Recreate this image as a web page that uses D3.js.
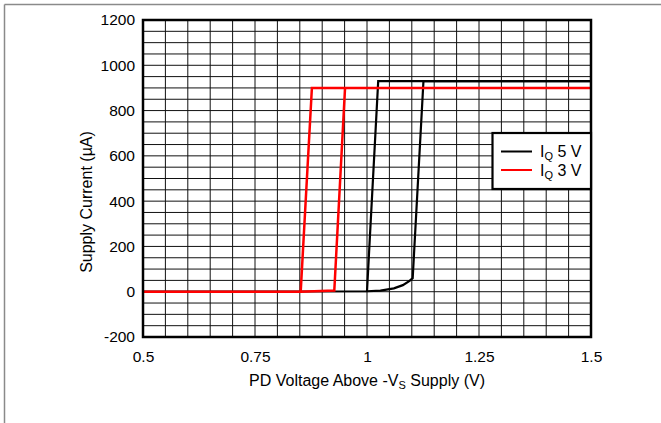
<!DOCTYPE html>
<html>
<head>
<meta charset="utf-8">
<script src="https://cdn.jsdelivr.net/npm/d3@7"></script>
<style>
  html, body { margin: 0; padding: 0; background: #fff; }
  svg { display: block; font-family: "Liberation Sans", Arial, sans-serif; }
</style>
</head>
<body>
<svg id="chart" width="661" height="423"></svg>
<script>
// ---- data ----
const xTicks = [0.5, 0.75, 1, 1.25, 1.5];
const xTickLabels = ["0.5", "0.75", "1", "1.25", "1.5"];
const yTicks = [-200, 0, 200, 400, 600, 800, 1000, 1200];
const yTickLabels = ["-200", "0", "200", "400", "600", "800", "1000", "1200"];
const xGridStep = 0.05;
const yGridStep = 50;

// IQ 5 V (black) - rising branch and falling branch
const iq5RiseX = [0.5, 1.0, 1.03, 1.06, 1.08, 1.095, 1.102, 1.126, 1.5];
const iq5RiseY = [0, 2, 5, 15, 29, 48, 60, 930, 930];
const iq5FallX = [1.0, 1.025, 1.5];
const iq5FallY = [2, 930, 930];

// IQ 3 V (red)
const iq3FallX = [0.5, 0.852, 0.877, 1.5];
const iq3FallY = [0, 0, 900, 900];
const iq3RiseX = [0.852, 0.927, 0.951];
const iq3RiseY = [0, 5, 900];

const seriesNames = ["5 V", "3 V"];
const seriesColors = ["#000000", "#ff0000"];

// ---- layout ----
const svg = d3.select("#chart");
const L = 143, R = 591, T = 20, B = 337;
const x = d3.scaleLinear().domain([0.5, 1.5]).range([L, R]);
const y = d3.scaleLinear().domain([-200, 1200]).range([B, T]);

// outer frame
svg.append("line").attr("x1", 4.5).attr("x2", 661).attr("y1", 4.5).attr("y2", 4.5)
  .attr("stroke", "#8a8a8a").attr("stroke-width", 1.5);
svg.append("line").attr("x1", 4.5).attr("x2", 4.5).attr("y1", 4.5).attr("y2", 423)
  .attr("stroke", "#8a8a8a").attr("stroke-width", 1.5);

// grid
const g = svg.append("g");
const xg = d3.range(0.5, 1.5 + 1e-9, xGridStep);
const yg = d3.range(-200, 1200 + 1e-9, yGridStep);
g.selectAll("line.vx").data(xg).join("line")
  .attr("x1", d => x(d)).attr("x2", d => x(d)).attr("y1", T).attr("y2", B)
  .attr("stroke", "#111").attr("stroke-width", 1);
g.selectAll("line.hy").data(yg).join("line")
  .attr("y1", d => y(d)).attr("y2", d => y(d)).attr("x1", L).attr("x2", R)
  .attr("stroke", "#111").attr("stroke-width", 1);

// axes labels
const yAxis = d3.axisLeft(y).tickValues(yTicks).tickSize(0).tickPadding(8)
  .tickFormat((d, i) => yTickLabels[i]);
const ya = svg.append("g").attr("transform", `translate(${L},0)`).call(yAxis);
ya.select(".domain").remove();
ya.selectAll("text").attr("font-size", 15.5).attr("fill", "#000").attr("font-family", "Liberation Sans, Arial, sans-serif");

const xAxis = d3.axisBottom(x).tickValues(xTicks).tickSize(0).tickPadding(14)
  .tickFormat((d, i) => xTickLabels[i]);
const xa = svg.append("g").attr("transform", `translate(0,${B})`).call(xAxis);
xa.select(".domain").remove();
xa.selectAll("text").attr("font-size", 15.5).attr("fill", "#000").attr("font-family", "Liberation Sans, Arial, sans-serif");

// lines
const line = d3.line().x(d => x(d[0])).y(d => y(d[1]));
const zip = (a, b) => a.map((v, i) => [v, b[i]]);
const curves = [
  {pts: zip(iq5RiseX, iq5RiseY), c: seriesColors[0], w: 2.2},
  {pts: zip(iq5FallX, iq5FallY), c: seriesColors[0], w: 2.2},
  {pts: zip(iq3FallX, iq3FallY), c: seriesColors[1], w: 2.5},
  {pts: zip(iq3RiseX, iq3RiseY), c: seriesColors[1], w: 2.5}
];
svg.append("g").selectAll("path").data(curves).join("path")
  .attr("d", d => line(d.pts)).attr("fill", "none")
  .attr("stroke", d => d.c).attr("stroke-width", d => d.w)
  .attr("stroke-linejoin", "miter");

// plot border
svg.append("rect").attr("x", L).attr("y", T).attr("width", R - L).attr("height", B - T)
  .attr("fill", "none").attr("stroke", "#000").attr("stroke-width", 2.5);

// legend
const lg = svg.append("g");
lg.append("rect").attr("x", 492.5).attr("y", 133).attr("width", 98.5).attr("height", 56)
  .attr("fill", "#fff").attr("stroke", "#000").attr("stroke-width", 2.2);
seriesNames.forEach((n, i) => {
  const ly = 151.5 + i * 18.5;
  lg.append("line").attr("x1", 501).attr("x2", 532).attr("y1", ly).attr("y2", ly)
    .attr("stroke", seriesColors[i]).attr("stroke-width", 2);
  const t = lg.append("text").attr("x", 540).attr("y", ly + 5.5).attr("font-size", 16).attr("fill", "#000");
  t.append("tspan").text("I");
  t.append("tspan").attr("font-size", 11).attr("dy", 3).text("Q");
  t.append("tspan").attr("dy", -3).text(" " + n);
});

// axis titles
const xt = svg.append("text").attr("x", (L + R) / 2).attr("y", 386).attr("text-anchor", "middle")
  .attr("font-size", 16).attr("fill", "#000");
xt.append("tspan").text("PD Voltage Above -V");
xt.append("tspan").attr("font-size", 11).attr("dy", 3).text("S");
xt.append("tspan").attr("dy", -3).text(" Supply (V)");

svg.append("text").attr("transform", `translate(92,202) rotate(-90)`).attr("text-anchor", "middle")
  .attr("font-size", 16).attr("fill", "#000").text("Supply Current (µA)");
</script>
</body>
</html>
